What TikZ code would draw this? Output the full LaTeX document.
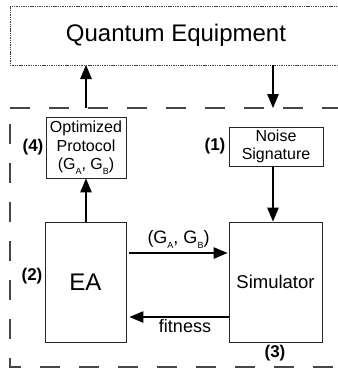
\documentclass[tikz,border=0pt]{standalone}
\usepackage{fontspec}
\setmainfont{Liberation Sans}
\usetikzlibrary{arrows.meta,calc}
\newcommand{\lowsub}[1]{\raisebox{-4.5pt}{\fontsize{9}{9}\selectfont #1}}
\begin{document}
\begin{tikzpicture}[x=1pt,y=-1pt,
  box/.style={draw=black!85,line width=0.9pt,inner sep=0pt,align=center},
  lbl/.style={font=\fontsize{17}{19}\selectfont\bfseries,inner sep=0pt},
  conn/.style={line width=1.1pt,-{Triangle[length=14pt,width=11.5pt]}},
  dashline/.style={draw=black!72,line width=1.4pt,dash pattern=on 20pt off 19pt}]
\useasboundingbox (0,0) rectangle (338,373);
\begin{scope}
\clip (0,0) rectangle (338,373);
% quantum equipment
\node[draw=black!75,line width=1pt,dash pattern=on 1.4pt off 0.9pt,minimum width=332pt,minimum height=59pt,inner sep=0pt,font=\fontsize{24}{28}\selectfont] (qe) at (176,35.5) {Quantum Equipment};
% dashed region
\draw[dashline] (10,108) -- (350,108);
\draw[dashline,dash phase=23pt] (10,108) -- (10,367) -- (350,367);
\end{scope}
\coordinate (upend) at (86,108);
\coordinate (downend) at (273,108);
\coordinate (qeup) at (86,65);
\coordinate (qedown) at (273,65);
% boxes
\node[box,minimum width=80pt,minimum height=61pt,font=\fontsize{16}{18.5}\selectfont] (opt) at (86,147.5) {Optimized\\Protocol\\(G\lowsub{A}, G\lowsub{B})};
\node[box,minimum width=94pt,minimum height=39pt,font=\fontsize{16}{17.5}\selectfont] (noise) at (276,146.5) {Noise\\Signature};
\node[box,minimum width=81pt,minimum height=120pt,font=\fontsize{24}{28}\selectfont] (ea) at (85.5,282) {EA};
\node[box,minimum width=93pt,minimum height=120pt,font=\fontsize{18.5}{22}\selectfont] (sim) at (275.5,282) {Simulator};
% labels
\node[lbl] (l1) at (215,146) {(1)};
\node[lbl] (l2) at (32,276) {(2)};
\node[lbl] (l3) at (275,353) {(3)};
\node[lbl] (l4) at (33,147) {(4)};
% connectors
\draw[conn] (upend) -- (qeup);
\draw[conn] (qedown) -- (downend);
\draw[conn] (ea.north -| opt.south) -- (opt.south);
\draw[conn] ($(noise.south)+(-3,0)$) -- ($(noise.south |- sim.north)+(-3,0)$);
\draw[conn] ($(ea.east)+(3,-29)$) -- node[above=3pt,font=\fontsize{18}{21}\selectfont,inner sep=1pt] (gab) {(G\lowsub{A}, G\lowsub{B})} ($(sim.west)+(-1,-29)$);
\draw[conn] ($(sim.west)+(0,35)$) -- node[below=1pt,font=\fontsize{18}{21}\selectfont,inner sep=1pt,xshift=6pt] (fit) {fitness} ($(ea.east)+(3,35)$);
\end{tikzpicture}
\end{document}
